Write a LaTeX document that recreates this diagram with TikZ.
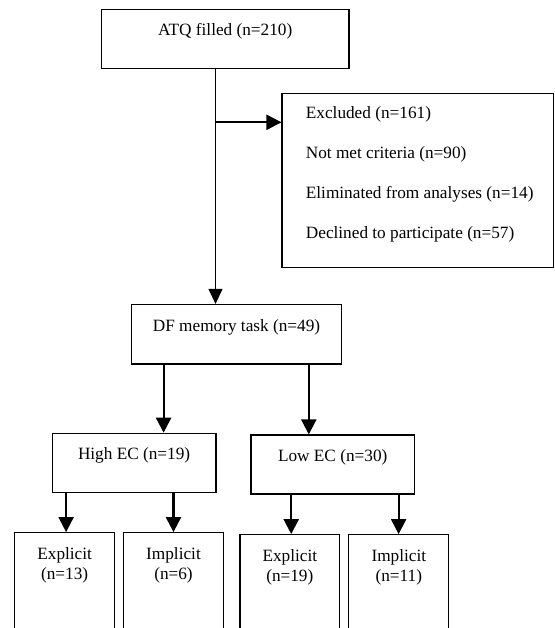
\documentclass[tikz,border=0pt]{standalone}
\usepackage{fontspec}
\setmainfont{Liberation Serif}
\usetikzlibrary{arrows.meta}

\tikzset{
  box/.style={draw, line width=1.2pt, inner sep=0pt},
  txt/.style={inner sep=0pt, font=\fontsize{17.24}{20.5}\selectfont},
  thinarrow/.style={line width=1pt, -{Triangle[length=15pt,width=14pt]}},
  thickarrow/.style={line width=2.2pt, -{Triangle[length=15pt,width=15pt]}},
}

\begin{document}
\begin{tikzpicture}[x=1pt,y=1pt,yscale=-1,xscale=1]
\useasboundingbox (0,0) rectangle (554,628);
\clip (0,0) rectangle (554,628);

%Shape: Rectangle [ATQ]
\node[box, minimum width=247.6pt, minimum height=59pt] (atq) at (225.2,39.2) {};
%Shape: Rectangle [Excluded]
\node[box, minimum width=271.3pt, minimum height=174pt] (excl) at (417.7,180.7) {};
%Shape: Rectangle [DF memory task]
\node[box, minimum width=210pt, minimum height=59.5pt] (df) at (236.5,334.25) {};
%Shape: Rectangle [High EC]
\node[box, minimum width=163.6pt, minimum height=59pt] (high) at (134.1,462.8) {};
%Shape: Rectangle [Low EC]
\node[box, minimum width=163.6pt, minimum height=59pt] (low) at (332.7,464.5) {};
%Shape: Rectangle [bottom row]
\node[box, minimum width=100.3pt, minimum height=120pt] (exl1) at (64.65,592.7) {};
\node[box, minimum width=100.4pt, minimum height=120pt] (imp1) at (173.5,592.7) {};
\node[box, minimum width=99.6pt, minimum height=120pt] (exl2) at (289.8,594.7) {};
\node[box, minimum width=100pt, minimum height=120pt] (imp2) at (398.8,594.7) {};

%Straight Lines
\coordinate (split) at (215.5,122.3);
\draw[thinarrow] (atq.south -| split) -- (df.north -| split);
\draw[thickarrow] (split) -- (excl.west |- split);
\draw[thickarrow] (df.south -| 163.6,0) -- (high.north -| 163.6,0);
\draw[thickarrow] (df.south -| 308.8,0) -- (low.north -| 308.8,0);
\draw[thickarrow] (high.south -| 66.1,0) -- (exl1.north -| 66.1,0);
\draw[thickarrow] (high.south -| 173.5,0) -- (imp1.north -| 173.5,0);
\draw[thickarrow] (low.south -| 291.2,0) -- (exl2.north -| 291.2,0);
\draw[thickarrow] (low.south -| 398.6,0) -- (imp2.north -| 398.6,0);

% Text Node
\node[txt, anchor=base] (atqtext) at (225.2,35.5) {ATQ filled (n=210)};
% Text Node (base = last line)
\node[txt, anchor=base west, align=left, font=\fontsize{17.24}{40}\selectfont] (excltext) at (305.7,238.5) {Excluded (n=161)\\Not met criteria (n=90)\\Eliminated from analyses (n=14)\\Declined to participate (n=57)};
% Text Node
\node[txt, anchor=base] (dftext) at (236.5,331) {DF memory task (n=49)};
% Text Node
\node[txt, anchor=base] (hightext) at (134.1,459.5) {High EC (n=19)};
% Text Node
\node[txt, anchor=base] (lowtext) at (332.7,461) {Low EC (n=30)};
% Text Node
\node[txt, anchor=base, align=center] (exl1text) at (64.65,579.5) {Explicit\\(n=13)};
\node[txt, anchor=base, align=center] (imp1text) at (173.5,579.5) {Implicit\\(n=6)};
\node[txt, anchor=base, align=center] (exl2text) at (289.8,581.5) {Explicit\\(n=19)};
\node[txt, anchor=base, align=center] (imp2text) at (398.8,581.5) {Implicit\\(n=11)};
\end{tikzpicture}
\end{document}
